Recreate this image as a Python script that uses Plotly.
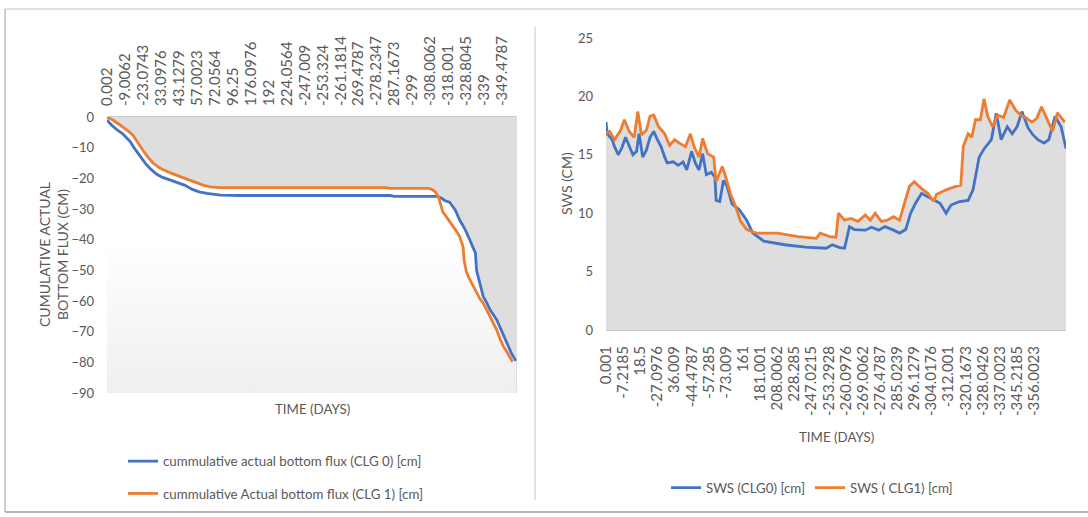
import numpy as np
import plotly.graph_objects as go

W, H = 1088, 517


def fx(x):
    return x / W


def fy(y):
    return 1 - y / H


FONT = "Lato"
TEXT = "#595959"
BLUE = "#4472C4"
ORANGE = "#ED7D31"
GRAY = "#dedede"

# ---- cumulative actual bottom flux ----
FLUX_TICK_LABELS = ["0.002", "-9.0062", "-23.0743", "33.0976", "43.1279", "57.0023",
                    "72.0564", "96.25", "176.0976", "192", "224.0564", "-247.009",
                    "-253.324", "-261.1814", "269.4787", "-278.2347", "287.1673", "-299",
                    "-308.0062", "-318.001", "-328.8045", "-339", "-349.4787"]
FLUX_TICK_STEP = 16
FLUX_LAST_DAY = 365
FLUX_AXIS_MIN = -90

FLUX_DAYS_CLG0 = [0, 4, 9, 14, 18, 21, 24, 27, 31, 35, 39, 44, 49, 55, 62, 69, 76, 82, 89, 95,
                  101, 120, 150, 180, 210, 240, 252, 256, 275, 294, 298, 301, 305, 310, 314,
                  319, 323, 328, 329, 332, 335, 338, 341, 344, 347, 351, 356, 360, 364]
FLUX_CLG0 = [-1.0, -2.6, -4.2, -5.5, -7.0, -8.2, -10.0, -11.6, -13.6, -15.5, -17.0, -18.6,
             -19.6, -20.4, -21.2, -22.2, -23.6, -24.4, -24.9, -25.3, -25.5, -25.6, -25.6,
             -25.6, -25.6, -25.6, -25.6, -25.9, -25.9, -25.9, -26.5, -27.3, -27.8, -30.3,
             -33.6, -36.8, -40.1, -44.4, -50.0, -54.5, -58.6, -60.5, -62.9, -64.5, -66.2,
             -69.5, -73.8, -77.0, -79.5]

FLUX_DAYS_CLG1 = [0, 5, 10, 15, 19, 23, 26, 29, 33, 37, 41, 46, 50, 57, 65, 72, 80, 86, 92, 100,
                  130, 160, 190, 220, 248, 252, 270, 286, 289, 292, 295, 297, 299, 302, 305,
                  308, 311, 314, 317, 318, 320, 322, 325, 329, 332, 335, 338, 341, 344, 347,
                  350, 353, 356, 359, 361]
FLUX_CLG1 = [-0.1, -0.9, -2.2, -3.5, -4.6, -5.9, -7.6, -9.5, -11.4, -13.3, -15.0, -16.4,
             -17.2, -18.3, -19.4, -20.5, -21.6, -22.3, -22.8, -23.0, -23.0, -23.0, -23.0,
             -23.0, -23.0, -23.3, -23.3, -23.3, -23.6, -24.3, -26.0, -28.7, -31.0, -32.5,
             -34.0, -35.8, -37.2, -39.0, -42.3, -47.0, -50.5, -52.3, -54.5, -57.5, -59.3,
             -60.7, -62.8, -65.1, -67.2, -69.5, -72.5, -74.9, -76.6, -78.4, -79.8]

# ---- soil water storage ----
SWS_TICK_LABELS = ["0.001", "-7.2185", "18.5", "-27.0976", "36.009", "-44.4787", "-57.285",
                   "-73.009", "161", "181.001", "208.0062", "228.285", "-247.0215",
                   "-253.2928", "-260.0976", "-269.0062", "-276.4787", "285.0239",
                   "296.1279", "-304.0176", "-312.001", "-320.1673", "-328.0426",
                   "-337.0023", "-345.2185", "-356.0023"]
SWS_TICK_STEP = 14
SWS_LAST_INDEX = 376

SWS_IDX_CLG0 = [0, 1, 5, 7, 10, 13, 16, 19, 22, 25, 27, 30, 33, 36, 39, 42, 45, 48, 50, 55,
                59, 63, 66, 70, 73, 76, 79, 82, 86, 89, 90, 93, 96, 99, 103, 109, 115, 120,
                129, 146, 163, 180, 185, 191, 195, 199, 203, 212, 217, 223, 228, 235, 240,
                245, 249, 253, 258, 263, 269, 273, 278, 282, 289, 296, 300, 305, 309, 315,
                319, 323, 328, 332, 336, 340, 345, 349, 353, 358, 362, 367, 372, 376]
SWS_CLG0 = [17.8, 16.8, 16.3, 15.7, 15.0, 15.6, 16.5, 15.7, 15.0, 15.3, 16.8, 14.8, 15.4,
            16.5, 17.0, 16.3, 15.7, 14.8, 14.3, 14.4, 14.1, 14.4, 13.7, 15.3, 14.3, 13.7,
            15.1, 13.3, 13.5, 13.1, 11.1, 11.0, 12.8, 12.3, 10.8, 10.3, 9.4, 8.3, 7.6, 7.3,
            7.1, 7.0, 7.3, 7.05, 7.0, 8.85, 8.6, 8.55, 8.8, 8.55, 8.85, 8.55, 8.3, 8.6,
            10.0, 10.85, 11.7, 11.4, 11.1, 10.85, 10.0, 10.7, 11.0, 11.1, 12.0, 14.8, 15.5,
            16.3, 18.55, 16.3, 17.4, 16.8, 17.4, 18.7, 17.3, 16.7, 16.3, 16.0, 16.3, 18.3,
            17.4, 15.55]

SWS_IDX_CLG1 = [0, 3, 7, 12, 15, 19, 23, 26, 29, 33, 36, 39, 43, 48, 52, 56, 60, 65, 69, 72,
                76, 79, 83, 88, 90, 93, 95, 97, 102, 106, 110, 115, 123, 140, 157, 172, 175,
                183, 188, 190, 195, 200, 206, 212, 216, 220, 225, 230, 235, 240, 243, 248,
                252, 258, 263, 268, 270, 278, 286, 290, 292, 296, 299, 302, 306, 309, 312,
                316, 320, 325, 330, 335, 339, 343, 348, 352, 356, 360, 365, 369, 373, 375]
SWS_CLG1 = [16.8, 17.0, 16.3, 17.1, 18.0, 17.0, 16.5, 18.7, 16.7, 17.1, 18.3, 18.4, 17.4,
            16.8, 15.8, 16.3, 16.0, 15.7, 16.8, 15.7, 14.8, 16.4, 15.1, 14.8, 12.7, 13.4,
            14.0, 13.4, 11.6, 10.55, 9.3, 8.6, 8.3, 8.3, 8.0, 7.85, 8.3, 8.0, 7.95, 10.0,
            9.4, 9.55, 9.3, 9.85, 9.4, 10.0, 9.3, 9.4, 9.7, 9.4, 10.55, 12.3, 12.7, 12.1,
            11.7, 11.0, 11.6, 12.0, 12.3, 12.4, 15.7, 16.8, 16.5, 18.0, 18.0, 19.8, 18.3,
            17.4, 18.4, 18.2, 19.7, 18.8, 18.4, 18.2, 17.8, 18.1, 19.1, 18.1, 17.0, 18.6,
            18.1, 17.8]

fig = go.Figure()

# Left panel: light fill from the axis floor up to each curve (on a hidden axis whose
# zero sits at the floor), over a gray plot background -> gray stays between 0 and the curves.
for days, vals in ((FLUX_DAYS_CLG0, FLUX_CLG0), (FLUX_DAYS_CLG1, FLUX_CLG1)):
    fig.add_trace(go.Scatter(
        x=days, y=np.array(vals) - FLUX_AXIS_MIN, xaxis="x", yaxis="y",
        mode="lines", line=dict(width=0), fill="tozeroy",
        fillgradient=dict(type="vertical", start=0, stop=-FLUX_AXIS_MIN,
                          colorscale=[[0, "#efefef"], [0.55, "#ffffff"], [1, "#ffffff"]]),
        hoverinfo="skip", showlegend=False))

fig.add_trace(go.Scatter(
    x=FLUX_DAYS_CLG0, y=FLUX_CLG0, xaxis="x", yaxis="y2", mode="lines",
    line=dict(color=BLUE, width=2.8), name="cummulative actual bottom flux (CLG 0) [cm]",
    legend="legend", legendgroup="a"))
fig.add_trace(go.Scatter(
    x=FLUX_DAYS_CLG1, y=FLUX_CLG1, xaxis="x", yaxis="y2", mode="lines",
    line=dict(color=ORANGE, width=2.8), name="cummulative Actual bottom flux (CLG 1) [cm]",
    legend="legend", legendgroup="b"))

# Right panel: gray area under both curves
for idx, vals in ((SWS_IDX_CLG0, SWS_CLG0), (SWS_IDX_CLG1, SWS_CLG1)):
    fig.add_trace(go.Scatter(
        x=idx, y=vals, xaxis="x2", yaxis="y3", mode="lines", line=dict(width=0),
        fill="tozeroy", fillcolor=GRAY, hoverinfo="skip", showlegend=False))

fig.add_trace(go.Scatter(
    x=SWS_IDX_CLG0, y=SWS_CLG0, xaxis="x2", yaxis="y3", mode="lines",
    line=dict(color=BLUE, width=2.8), name="SWS (CLG0) [cm]", legend="legend2"))
fig.add_trace(go.Scatter(
    x=SWS_IDX_CLG1, y=SWS_CLG1, xaxis="x2", yaxis="y3", mode="lines",
    line=dict(color=ORANGE, width=2.8), name="SWS ( CLG1) [cm]", legend="legend2"))

L_X0, L_X1, L_Y0, L_Y1 = 107, 517, 117, 393
R_X0, R_X1, R_Y0, R_Y1 = 606, 1066, 38, 330

tickfont_x = dict(family=FONT, size=15, color=TEXT)
tickfont_y = dict(family=FONT, size=13, color=TEXT)
legend_font = dict(family=FONT, size=13.3, color=TEXT)

fig.update_layout(
    width=W, height=H, margin=dict(l=0, r=0, t=0, b=0),
    paper_bgcolor="white", plot_bgcolor="rgba(0,0,0,0)",
    font=dict(family=FONT, color=TEXT),
    xaxis=dict(domain=[fx(L_X0), fx(L_X1)], range=[0, FLUX_LAST_DAY], side="top",
               anchor="y", tickmode="array",
               tickvals=[i * FLUX_TICK_STEP for i in range(len(FLUX_TICK_LABELS))],
               ticktext=FLUX_TICK_LABELS, tickangle=-90, tickfont=tickfont_x,
               showgrid=False, zeroline=False, showline=True, linecolor="#c9c9c9",
               ticks="", ticklabelstandoff=7, automargin=False),
    yaxis=dict(domain=[fy(L_Y1), fy(L_Y0)], range=[0, -FLUX_AXIS_MIN], visible=False,
               anchor="x"),
    yaxis2=dict(domain=[fy(L_Y1), fy(L_Y0)], range=[FLUX_AXIS_MIN, 0], overlaying="y",
                anchor="x", side="left", dtick=10, tickfont=tickfont_y, showgrid=False,
                zeroline=False, showline=False, ticks="", ticklabelstandoff=12,
                automargin=False),
    xaxis2=dict(domain=[fx(R_X0), fx(R_X1)], range=[0, SWS_LAST_INDEX], anchor="y3",
                tickmode="array",
                tickvals=[i * SWS_TICK_STEP for i in range(len(SWS_TICK_LABELS))],
                ticktext=SWS_TICK_LABELS, tickangle=-90, tickfont=tickfont_x,
                showgrid=False, zeroline=False, showline=True, linecolor="#c9c9c9",
                ticks="", ticklabelstandoff=9, automargin=False),
    yaxis3=dict(domain=[fy(R_Y1), fy(R_Y0)], range=[0, 25], dtick=5, anchor="x2",
                tickfont=tickfont_y, showgrid=False, zeroline=False, showline=False,
                ticks="", ticklabelstandoff=12, automargin=False),
    legend=dict(x=fx(123), xanchor="left", y=fy(446), yanchor="top",
                font=legend_font, bgcolor="rgba(0,0,0,0)",
                traceorder="grouped", tracegroupgap=12, itemwidth=30),
    legend2=dict(x=fx(812), xanchor="center", y=fy(488), yanchor="middle",
                 orientation="h", font=legend_font, bgcolor="rgba(0,0,0,0)",
                 itemwidth=30),
    showlegend=True,
)

# Gray plot background behind the flux panel
fig.add_shape(type="rect", xref="x domain", yref="y domain", x0=0, x1=1, y0=0, y1=1,
              fillcolor=GRAY, line=dict(width=0), layer="below")

title_font = dict(family=FONT, size=13.3, color=TEXT)
rot_font = dict(family=FONT, size=14, color=TEXT)
centre = dict(xref="paper", yref="paper", xanchor="center", yanchor="middle",
              showarrow=False)
fig.add_annotation(x=fx(312), y=fy(409), text="TIME (DAYS)", font=title_font, **centre)
fig.add_annotation(x=fx(836), y=fy(437), text="TIME (DAYS)", font=title_font, **centre)
fig.add_annotation(x=fx(53), y=fy(255), text="CUMULATIVE ACTUAL<br>BOTTOM FLUX (CM)",
                   textangle=-90, font=rot_font, **centre)
fig.add_annotation(x=fx(567), y=fy(184), text="SWS (CM)", textangle=-90, font=rot_font,
                   **centre)

# Chart frames
frame = [
    (5, 9, 1088, 9, "#d9d9d9"),
    (5, 9, 5, 512, "#bdbdbd"),
    (535, 27, 535, 500, "#d9d9d9"),
    (5, 512, 1088, 512, "#9e9e9e"),
]
for x0, y0, x1, y1, c in frame:
    fig.add_shape(type="line", xref="paper", yref="paper", x0=fx(x0), y0=fy(y0),
                  x1=fx(x1), y1=fy(y1), line=dict(color=c, width=1.5))

fig.write_html("out.html")
